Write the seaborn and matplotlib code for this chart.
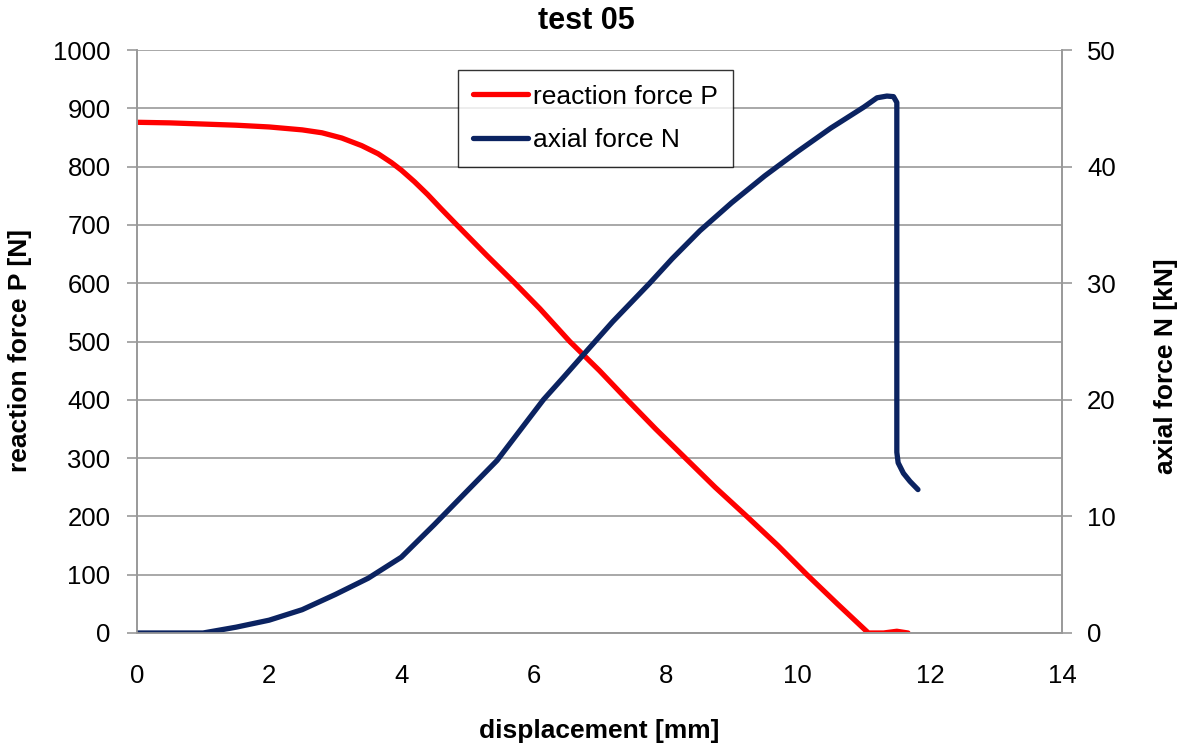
import matplotlib
matplotlib.use("Agg")
import matplotlib.pyplot as plt
import seaborn as sns
import pandas as pd

# Reaction force P [N] against displacement [mm]
disp_p = [0.0, 0.5, 1.0, 1.5, 2.0, 2.5, 2.8, 3.1, 3.4, 3.65, 3.85, 4.0, 4.2, 4.4,
          4.6, 4.84, 5.3, 5.72, 6.1, 6.55, 7.0, 7.42, 7.85, 8.3, 8.75, 9.23,
          9.7, 10.14, 10.6, 11.07, 11.3, 11.5, 11.67]
force_p = [876, 875, 873, 871, 868, 863, 858, 849, 836, 822, 807, 794, 774, 752,
           728, 700, 647, 600, 556, 500, 450, 400, 350, 300, 250, 200,
           150, 100, 50, 0, 0, 3, 0]

# Axial force N [kN] against displacement [mm]
disp_n = [0.0, 0.5, 1.0, 1.5, 2.0, 2.5, 3.0, 3.5, 4.0, 4.5, 5.0, 5.45, 5.8, 6.15,
          6.45, 6.73, 7.2, 7.76, 8.1, 8.52, 9.0, 9.5, 10.0, 10.5, 11.0, 11.2,
          11.35, 11.45, 11.5, 11.5, 11.52, 11.6, 11.7, 11.82]
force_n = [0.0, 0.0, 0.0, 0.5, 1.1, 2.0, 3.3, 4.7, 6.5, 9.3, 12.2, 14.8, 17.4, 20.0,
           21.9, 23.7, 26.7, 30.0, 32.1, 34.5, 36.9, 39.2, 41.3, 43.3, 45.1, 45.9,
           46.05, 46.0, 45.5, 15.5, 14.6, 13.7, 13.0, 12.3]

title = "test 05"
xlabel = "displacement [mm]"
ylabel_left = "reaction force P [N]"
ylabel_right = "axial force N [kN]"

red = "#ff0000"
navy = "#0b2361"
grey = "#999999"

sns.set_theme(style="white")
plt.rcParams["font.family"] = ["Liberation Sans", "DejaVu Sans"]
plt.rcParams["text.color"] = "black"

W, H = 1188, 745
fig = plt.figure(figsize=(W / 100, H / 100), dpi=100)
ax = fig.add_axes([137 / W, 1 - 633 / H, (1062 - 137) / W, (633 - 50) / H])
ax2 = ax.twinx()

df_p = pd.DataFrame({"d": disp_p, "P": force_p})
df_n = pd.DataFrame({"d": disp_n, "N": force_n})

sns.lineplot(data=df_p, x="d", y="P", ax=ax, color=red, linewidth=3.8,
             sort=False, estimator=None, legend=False)
sns.lineplot(data=df_n, x="d", y="N", ax=ax2, color=navy, linewidth=3.8,
             sort=False, estimator=None, legend=False)

ax.set_xlim(0, 14)
ax.set_ylim(0, 1000)
ax2.set_ylim(0, 50)
ax.set_xticks(range(0, 15, 2))
ax.set_yticks(range(0, 1001, 100))
ax2.set_yticks(range(0, 51, 10))

ax.yaxis.grid(True, color=grey, linewidth=1.2)
ax.xaxis.grid(False)
ax.set_axisbelow(True)

for a in (ax, ax2):
    for side in ("left", "right", "bottom"):
        a.spines[side].set_color(grey)
        a.spines[side].set_linewidth(1.2)
        a.spines[side].set_visible(True)
    a.spines["top"].set_visible(False)
    a.tick_params(axis="both", which="major", direction="out", length=7,
                  width=1.2, color=grey, labelsize=18.5, labelcolor="black")
ax.tick_params(axis="x", pad=15)
ax.tick_params(axis="y", pad=12)
ax2.tick_params(axis="y", pad=11)

lab_kw = dict(fontsize=19, fontweight="bold", color="black")
ax.set_xlabel(xlabel, **lab_kw)
ax.xaxis.label.set_va("center")
ax.xaxis.set_label_coords(0.5, (633 - 731) / 583)
ax.set_ylabel(ylabel_left, **lab_kw)
ax.yaxis.label.set_va("center")
ax.yaxis.set_label_coords((20 - 137) / 925, (633 - 351) / 583)
ax2.set_ylabel(ylabel_right, **lab_kw)
ax2.yaxis.label.set_va("center")
ax2.yaxis.set_label_coords((1166 - 137) / 925, (633 - 366) / 583)

fig.text(586 / W, 1 - 21 / H, title, ha="center", va="center",
         fontsize=22, fontweight="bold", color="black")

handles = ax.get_lines()[:1] + ax2.get_lines()[:1]
leg = ax.legend(handles, ["reaction force P", "axial force N"],
                loc="upper left", bbox_to_anchor=((458 - 137) / 925, 1 - 20 / 583),
                borderaxespad=0, fontsize=19, frameon=True, fancybox=False,
                borderpad=0.55, handlelength=2.1, handletextpad=0.2,
                labelspacing=0.75)
leg.get_frame().set_edgecolor("black")
leg.get_frame().set_linewidth(1.0)
leg.set_zorder(10)

fig.savefig("out.png", dpi=100, facecolor="white")
